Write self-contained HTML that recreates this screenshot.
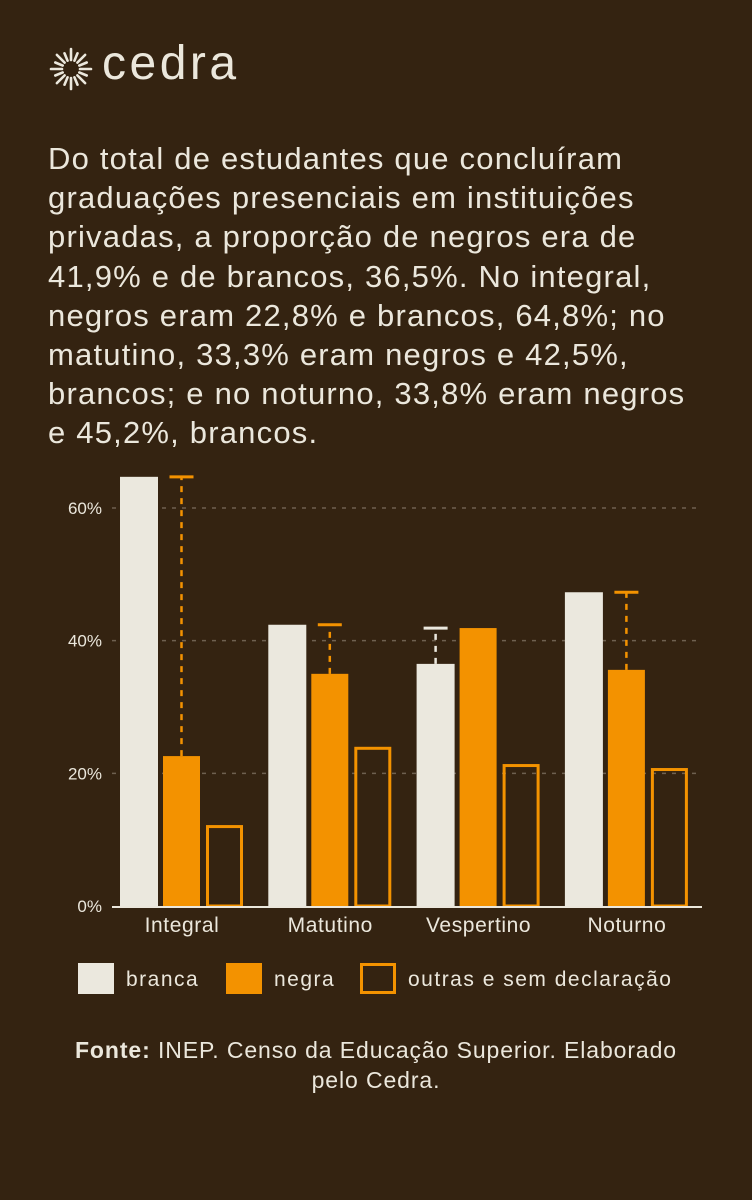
<!DOCTYPE html>
<html><head><meta charset="utf-8"><style>
body{margin:0;width:752px;height:1200px;background:#342311;overflow:hidden;font-family:"Liberation Sans",sans-serif;color:#ebe7dc}
#logo{position:absolute;left:48px;top:46px;height:44px}
#logo span{position:absolute;left:54px;top:-10px;font-size:48px;letter-spacing:3.5px}
#title{position:absolute;left:48px;top:139px;width:700px;font-size:31px;line-height:39.2px;letter-spacing:1.2px;white-space:nowrap}
#src{position:absolute;left:20px;top:1035px;width:712px;text-align:center;font-size:23px;line-height:30px;letter-spacing:0.9px}
</style></head><body>
<div id="logo">
<svg width="46" height="46" viewBox="-23 -23 46 46">
<g stroke="#ebe7dc" stroke-width="2.6" stroke-linecap="round" id="rays"></g>
<circle r="6" fill="#342311"/></svg><span>cedra</span></div>
<div id="title">Do total de estudantes que concluíram<br>graduações presenciais em instituições<br>privadas, a proporção de negros era de<br>41,9% e de brancos, 36,5%. No integral,<br>negros eram 22,8% e brancos, 64,8%; no<br>matutino, 33,3% eram negros e 42,5%,<br>brancos; e no noturno, 33,8% eram negros<br>e 45,2%, brancos.</div>
<svg id="chart" width="752" height="1200" style="position:absolute;left:0;top:0"></svg>
<div id="src"><b>Fonte:</b> INEP. Censo da Educação Superior. Elaborado<br>pelo Cedra.</div>
<script>
const categories=["Integral","Matutino","Vespertino","Noturno"];
const branca=[64.7,42.4,36.5,47.3];
const negra=[22.6,35.0,41.9,35.6];
const outras=[12.2,24.0,21.4,20.8];
const ticks=[0,20,40,60];
const seriesNames=["branca","negra","outras e sem declaração"];
const NS="http://www.w3.org/2000/svg";
const rays=document.getElementById('rays');
for(let i=0;i<16;i++){const a=i*Math.PI/8;const l=document.createElementNS(NS,'line');
l.setAttribute('x1',9*Math.cos(a));l.setAttribute('y1',9*Math.sin(a));
l.setAttribute('x2',(i%2?17:20)*Math.cos(a));l.setAttribute('y2',(i%2?17:20)*Math.sin(a));rays.appendChild(l);}
const svg=document.getElementById('chart');
const y0=906,pxPer=398/60;
const y=v=>y0-v*pxPer;
const gx=i=>120+i*148.3;
function el(t,a,p){const e=document.createElementNS(NS,t);for(const k in a)e.setAttribute(k,a[k]);(p||svg).appendChild(e);return e;}
ticks.forEach(t=>{
 if(t>0){const g=el('line',{x1:112,x2:702,y1:y(t),y2:y(t),stroke:'#6e6050','stroke-width':1.5,'stroke-dasharray':'4 6'});
 
 }
 const tx=el('text',{x:102,y:y(t)+6,'text-anchor':'end','font-size':17,fill:'#ebe7dc','font-family':'Liberation Sans'});tx.textContent=t+'%';
 
 
});
const cream='#ebe8de',orange='#f39200';
categories.forEach((c,i)=>{
 const x=gx(i);
 const b=el('rect',{x:x,y:y(branca[i]),width:38,height:branca[i]*pxPer,fill:cream});
 
 
 const n=el('rect',{x:x+43,y:y(negra[i]),width:37,height:negra[i]*pxPer,fill:orange});
 
 
 const o=el('rect',{x:x+87.5,y:y(outras[i])+1.5,width:34,height:outras[i]*pxPer-1.5,fill:'none',stroke:orange,'stroke-width':3});
 
 
 let cx,lo,hi,col;
 if(negra[i]<branca[i]){cx=x+61.5;lo=negra[i];hi=branca[i];col=orange;}else{cx=x+19;lo=branca[i];hi=negra[i];col=cream;}
 const d=el('line',{x1:cx,x2:cx,y1:y(lo),y2:y(hi),stroke:col,'stroke-width':2.5,'stroke-dasharray':'6 6'});
 
 
 const cap=el('line',{x1:cx-12,x2:cx+12,y1:y(hi),y2:y(hi),stroke:col,'stroke-width':3});
 
 
 const t=el('text',{x:x+62,y:932,'text-anchor':'middle','font-size':21,'letter-spacing':0.6,fill:'#ebe7dc','font-family':'Liberation Sans'});t.textContent=c;
 
 
});
const ax=el('line',{x1:112,x2:702,y1:y0+1,y2:y0+1,stroke:'#ebe7dc','stroke-width':2});


const lx=[78,226,360];
seriesNames.forEach((s,i)=>{
 const r=i<2?el('rect',{x:lx[i],y:963,width:36,height:31,fill:i?orange:cream}):el('rect',{x:lx[i]+1.5,y:964.5,width:33,height:28,fill:'none',stroke:orange,'stroke-width':3});
 
 
 const t=el('text',{x:lx[i]+48,y:986,'font-size':21,'letter-spacing':1.5,fill:'#ebe7dc','font-family':'Liberation Sans'});t.textContent=s;
 
 
});
</script>
</body></html>
